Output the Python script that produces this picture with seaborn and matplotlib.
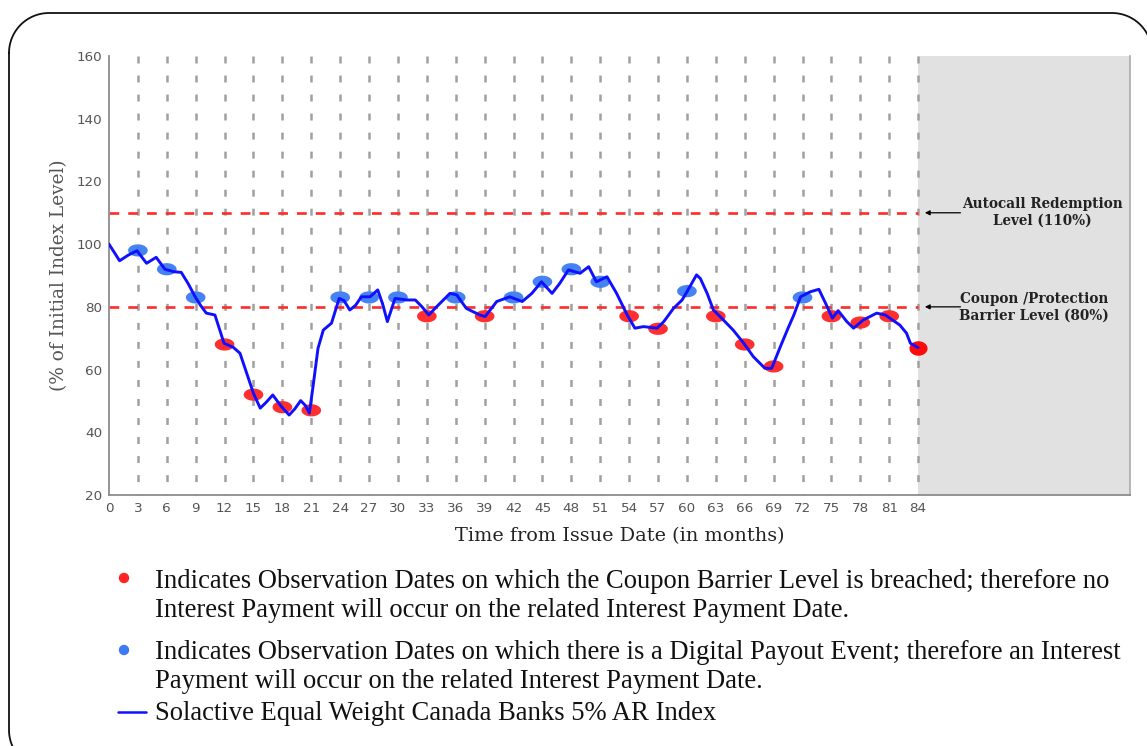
import numpy as np
import pandas as pd
import matplotlib
matplotlib.use("Agg")
import matplotlib.pyplot as plt
from matplotlib.path import Path
import seaborn as sns

# ---------------- data ----------------
line_months = [0, 1.1, 2.0, 2.9, 3.9, 4.9, 5.8, 6.75, 7.5, 8.2, 8.93, 9.5, 10.1, 11.0,
               11.94, 12.9, 13.6, 14.3, 15.0, 15.7, 16.3, 17.0, 17.9, 18.7, 19.3, 19.9,
               20.4, 20.8, 21.2, 21.7, 22.25, 23.1, 23.9, 24.4, 25.0, 25.6, 26.2, 27.1,
               27.9, 28.4, 28.9, 29.7, 30.9, 31.8, 32.5, 33.2, 34.0, 35.4, 36.1, 37.1,
               38.5, 39.05, 40.25, 41.6, 42.9, 43.9, 44.9, 46.0, 46.8, 47.7, 48.9, 49.8,
               50.6, 51.7, 52.7, 53.8, 54.6, 55.5, 56.9, 57.6, 58.6, 59.5, 60.0, 61.0,
               61.4, 62.1, 62.75, 63.6, 64.8, 65.9, 66.9, 68.1, 68.8, 69.7, 70.5, 71.1,
               71.8, 72.8, 73.7, 74.4, 75.1, 75.7, 76.6, 77.3, 78.3, 79.7, 80.6, 82.1,
               82.8, 83.2, 84.0]
line_values = [100, 94.7, 96.5, 97.9, 93.9, 95.8, 92.0, 91.2, 91.0, 87.5, 83.3, 80.5, 78.0, 77.4,
               68.4, 67.1, 65.2, 58.8, 52.4, 47.7, 49.5, 51.9, 48.2, 45.5, 47.5, 50.1,
               48.5, 46.1, 55.0, 66.8, 72.6, 74.8, 82.7, 82.0, 79.0, 80.5, 83.2, 83.2,
               85.4, 81.0, 75.3, 82.7, 82.2, 82.2, 80.0, 77.4, 80.0, 84.3, 83.8, 79.5,
               77.4, 76.9, 81.7, 83.2, 81.7, 84.3, 88.0, 84.3, 87.5, 91.8, 90.7, 92.8,
               88.0, 89.6, 84.3, 77.4, 73.2, 73.7, 73.2, 75.3, 79.5, 82.2, 84.8, 90.2,
               89.0, 84.3, 79.0, 76.4, 72.6, 68.4, 64.1, 60.4, 60.4, 67.3, 73.2, 77.4,
               83.2, 84.8, 85.6, 81.1, 76.4, 78.8, 75.3, 73.2, 75.8, 78.0, 77.4, 74.2,
               71.6, 68.4, 67.0]

obs_months = [3, 6, 9, 12, 15, 18, 21, 24, 27, 30, 33, 36, 39, 42, 45, 48, 51, 54, 57,
              60, 63, 66, 69, 72, 75, 78, 81]
obs_values = [98, 92, 83, 68, 52, 48, 47, 83, 83, 83, 77, 83, 77, 83, 88, 92, 88, 77, 73,
              85, 77, 68, 61, 83, 77, 75, 77]
final_month = [84]
final_value = [67]

autocall_level = 110
barrier_level = 80
x_ticks = list(range(0, 85, 3))
y_ticks = list(range(20, 161, 20))

autocall_label = "Autocall Redemption\nLevel (110%)"
barrier_label = "Coupon /Protection\nBarrier Level (80%)"
xlabel = "Time from Issue Date (in months)"
ylabel = "(% of Initial Index Level)"
legend_red = ("Indicates Observation Dates on which the Coupon Barrier Level is breached; therefore no\n"
              "Interest Payment will occur on the related Interest Payment Date.")
legend_blue = ("Indicates Observation Dates on which there is a Digital Payout Event; therefore an Interest\n"
               "Payment will occur on the related Interest Payment Date.")
legend_line = "Solactive Equal Weight Canada Banks 5% AR Index"

# ---------------- style ----------------
sns.set_theme(style="white")
plt.rcParams["font.family"] = ["DejaVu Sans"]
plt.rcParams["lines.scale_dashes"] = False

W, H = 1147, 746
fig = plt.figure(figsize=(W / 100, H / 100), dpi=100)
fig.patch.set_facecolor("white")

ax = fig.add_axes([109 / W, 1 - 495 / H, (1130 - 109) / W, (495 - 56) / H])
ax.set_facecolor("white")
ax.set_xlim(0, 106)
ax.set_ylim(20, 160)

# grey region after maturity
ax.axvspan(84, 106, color="#e1e1e1", zorder=0, lw=0)

# vertical dashed grid
ax.vlines([m for m in x_ticks if m > 0], ymin=160, ymax=20, colors="#a0a0a0",
          linewidth=1.8, linestyles=(0, (5.0, 8.7)), zorder=1)

# level lines
ax.hlines([autocall_level, barrier_level], xmin=0, xmax=84, colors="#ff2b2b",
          linewidth=1.9, linestyles=(0, (7.0, 6.5)), zorder=2)

# ellipse markers
th = np.linspace(0, 2 * np.pi, 64)
ell = Path(np.column_stack([np.cos(th), 0.62 * np.sin(th)]), closed=True)
ell_final = Path(np.column_stack([np.cos(th), 0.8 * np.sin(th)]), closed=True)

obs_df = pd.DataFrame({"month": obs_months, "value": obs_values})
obs_df["status"] = np.where(obs_df["value"] >= barrier_level, "payout", "breach")
sns.scatterplot(data=obs_df, x="month", y="value", hue="status",
                palette={"payout": "#3b7cf2", "breach": "#ff2424"},
                marker=ell, s=200, linewidth=0, alpha=0.95, legend=False, ax=ax, zorder=3)
final_df = pd.DataFrame({"month": final_month, "value": final_value})
sns.scatterplot(data=final_df, x="month", y="value", color="#ff0a0a", marker=ell_final,
                s=170, linewidth=0, legend=False, ax=ax, zorder=3)

# index line
line_df = pd.DataFrame({"month": line_months, "value": line_values})
sns.lineplot(data=line_df, x="month", y="value", sort=False, estimator=None,
             color="#1010ff", linewidth=2.1, ax=ax, zorder=4,
             solid_joinstyle="round", solid_capstyle="round")

# annotations
txt_kw = dict(ha="center", va="center", fontsize=9.8, fontweight="bold",
              family="DejaVu Serif", color="#222222", linespacing=1.25)
ax.text(96.9, 110, autocall_label, **txt_kw)
ax.text(96.05, 79.8, barrier_label, **txt_kw)
for yv in (autocall_level, barrier_level):
    ax.annotate("", xy=(84.7, yv), xytext=(88.4, yv),
                arrowprops=dict(arrowstyle="-|>", color="black", lw=0.9,
                                mutation_scale=7, shrinkA=0, shrinkB=0), zorder=5)

# axes styling
ax.set_xticks(x_ticks)
ax.set_yticks(y_ticks)
ax.tick_params(axis="both", labelsize=9.7, labelcolor="#555555", colors="#888888",
               length=3, width=1, pad=2, direction="out")
for side in ("left", "bottom", "right"):
    ax.spines[side].set_color("#8c8c8c")
    ax.spines[side].set_linewidth(1.3)
ax.spines["right"].set_color("#b0b0b0")
ax.spines["top"].set_visible(False)
ax.set_xlabel(xlabel, family="DejaVu Serif", fontsize=13.9, color="#222222", labelpad=9)
ax.set_ylabel(ylabel, family="DejaVu Serif", fontsize=13.3, color="#555555", labelpad=6)

# legend block below
def fx(px):
    return px / W

def fy(py):
    return 1 - py / H

leg_kw = dict(family="Liberation Serif", fontsize=19.2, color="#111111", va="center",
              ha="left", linespacing=1.21)
fig.text(fx(155), fy(596), legend_red, **leg_kw)
fig.text(fx(155), fy(667), legend_blue, **leg_kw)
fig.text(fx(155), fy(714), legend_line, **leg_kw)
fig.patches.append(matplotlib.patches.Ellipse((fx(124), fy(578)), 9 / W, 9 / H,
                                             transform=fig.transFigure, color="#ff2424"))
fig.patches.append(matplotlib.patches.Ellipse((fx(124), fy(650)), 9 / W, 9 / H,
                                             transform=fig.transFigure, color="#3b7cf2"))
fig.lines.append(matplotlib.lines.Line2D([fx(118), fx(146)], [fy(712), fy(712)],
                                         transform=fig.transFigure, color="#1010ff", lw=1.8))

# rounded frame (decorative), drawn in pixel coordinates (y measured from top)
def corner(cx, cy, r, a0, a1, n=30):
    a = np.linspace(np.radians(a0), np.radians(a1), n)
    return np.column_stack([cx + r * np.cos(a), cy - r * np.sin(a)])

L, R, T, B, r = 9, 1152, 13, 770, 40
pts = np.vstack([
    corner(L + r, T + r, r, 180, 90),      # top-left
    corner(R - r, T + r, r, 90, 0),        # top-right
    corner(R - r, B - r, r, 0, -90),       # bottom-right
    corner(L + r, B - r, r, -90, -180),    # bottom-left
])
pts = np.vstack([pts, pts[:1]])
fig.lines.append(matplotlib.lines.Line2D(pts[:, 0] / W, 1 - pts[:, 1] / H,
                                         transform=fig.transFigure, color="#111111", lw=1.3))

fig.savefig("out.png", dpi=100)
